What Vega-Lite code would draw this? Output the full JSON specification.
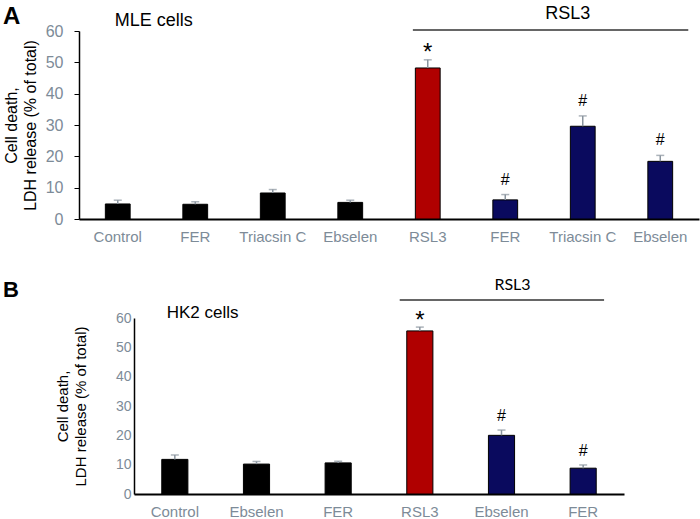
{
  "$schema": "https://vega.github.io/schema/vega-lite/v6.json",
  "padding": {"left": 3, "top": 5, "right": 1, "bottom": 0},
  "spacing": 33,
  "config": {
    "view": {"stroke": null},
    "font": "Liberation Sans",
    "axis": {"grid": false, "domainColor": "#000000", "tickColor": "#000000", "labelColor": "#7d8b98", "labelFont": "Liberation Sans", "titleFont": "Liberation Sans", "titleColor": "#000000", "titleFontWeight": "normal"},
    "axisY": {"tickCount": 7, "labelOverlap": false}
  },
  "datasets": {
    "mle": [
      {"cond": "Control", "grp": "none", "mean": 4.8, "hi": 6.0, "sig": ""},
      {"cond": "FER", "grp": "none", "mean": 4.7, "hi": 5.5, "sig": ""},
      {"cond": "Triacsin C", "grp": "none", "mean": 8.3, "hi": 9.4, "sig": ""},
      {"cond": "Ebselen", "grp": "none", "mean": 5.3, "hi": 6.0, "sig": ""},
      {"cond": "RSL3", "grp": "RSL3", "mean": 48.2, "hi": 50.8, "sig": "*"},
      {"cond": "RSL3+FER", "grp": "RSL3+inhibitor", "mean": 6.1, "hi": 7.8, "sig": "#"},
      {"cond": "RSL3+Triacsin C", "grp": "RSL3+inhibitor", "mean": 29.6, "hi": 32.9, "sig": "#"},
      {"cond": "RSL3+Ebselen", "grp": "RSL3+inhibitor", "mean": 18.4, "hi": 20.3, "sig": "#"}
    ],
    "hk2": [
      {"cond": "Control", "grp": "none", "mean": 11.8, "hi": 13.3, "sig": ""},
      {"cond": "Ebselen", "grp": "none", "mean": 10.2, "hi": 11.1, "sig": ""},
      {"cond": "FER", "grp": "none", "mean": 10.6, "hi": 11.2, "sig": ""},
      {"cond": "RSL3", "grp": "RSL3", "mean": 55.6, "hi": 56.9, "sig": "*"},
      {"cond": "RSL3+Ebselen", "grp": "RSL3+inhibitor", "mean": 20.0, "hi": 21.8, "sig": "#"},
      {"cond": "RSL3+FER", "grp": "RSL3+inhibitor", "mean": 8.8, "hi": 9.9, "sig": "#"}
    ]
  },
  "vconcat": [
    {
      "width": 620,
      "height": 188,
      "title": {"text": "A", "anchor": "start", "frame": "group", "dx": -76, "dy": 24, "fontSize": 24, "fontWeight": "bold", "offset": 0, "font": "Liberation Sans"},
      "data": {"name": "mle"},
      "encoding": {
        "x": {"field": "cond", "type": "nominal", "sort": null,
          "scale": {"paddingInner": 0.68, "paddingOuter": 0.34},
          "axis": {"title": null, "labelAngle": 0, "ticks": false, "domainWidth": 2, "labelFontSize": 15, "labelPadding": 10, "labelOverlap": false, "labelExpr": "replace(datum.label, 'RSL3+', '')"}}
      },
      "layer": [
        {
          "mark": {"type": "bar", "stroke": "#000000", "strokeWidth": 1},
          "encoding": {
            "y": {"field": "mean", "type": "quantitative", "scale": {"domain": [0, 60], "nice": false},
              "axis": {"values": [0, 10, 20, 30, 40, 50, 60], "title": ["Cell death,", "LDH release (% of total)"], "titleFontSize": 16, "titleLineHeight": 19, "titlePadding": 7, "labelFontSize": 16, "labelPadding": 11, "tickSize": 5, "domainWidth": 1.5}},
            "color": {"field": "grp", "type": "nominal", "legend": null,
              "scale": {"domain": ["none", "RSL3", "RSL3+inhibitor"], "range": ["#000000", "#b00000", "#0a0a5e"]}}
          }
        },
        {
          "mark": {"type": "rule", "color": "#8a949e", "strokeWidth": 1.5},
          "encoding": {"y": {"field": "mean", "type": "quantitative"}, "y2": {"field": "hi"}}
        },
        {
          "mark": {"type": "tick", "color": "#8a949e", "thickness": 1.5, "size": 8, "orient": "horizontal"},
          "encoding": {"y": {"field": "hi", "type": "quantitative"}}
        },
        {
          "transform": [{"filter": "datum.sig == '*'"}],
          "mark": {"type": "text", "fontSize": 24, "baseline": "alphabetic", "dy": 0, "color": "#000000"},
          "encoding": {"y": {"field": "hi", "type": "quantitative"}, "text": {"field": "sig"}}
        },
        {
          "transform": [{"filter": "datum.sig == '#'"}],
          "mark": {"type": "text", "fontSize": 16, "baseline": "alphabetic", "dy": -10, "color": "#000000"},
          "encoding": {"y": {"field": "hi", "type": "quantitative"}, "text": {"field": "sig"}}
        },
        {
          "data": {"values": [{"from": "RSL3", "to": "RSL3+Ebselen", "lvl": 60.3}]},
          "mark": {"type": "rule", "color": "#333333", "strokeWidth": 1.5},
          "encoding": {
            "x": {"field": "from", "type": "nominal", "bandPosition": -0.1},
            "x2": {"field": "to", "bandPosition": 1.63},
            "y": {"field": "lvl", "type": "quantitative"}
          }
        },
        {
          "data": {"values": [{"at": "RSL3+Triacsin C", "lvl": 60, "label": "RSL3"}]},
          "mark": {"type": "text", "fontSize": 18, "baseline": "middle", "align": "center", "dy": -17, "color": "#000000"},
          "encoding": {
            "x": {"field": "at", "type": "nominal", "bandPosition": -0.1},
            "y": {"field": "lvl", "type": "quantitative"},
            "text": {"field": "label"}
          }
        },
        {
          "data": {"values": [{"at": "Control", "lvl": 60, "label": "MLE cells"}]},
          "mark": {"type": "text", "fontSize": 18, "baseline": "middle", "align": "left", "dy": -10, "color": "#000000"},
          "encoding": {
            "x": {"field": "at", "type": "nominal", "bandPosition": 0.38},
            "y": {"field": "lvl", "type": "quantitative"},
            "text": {"field": "label"}
          }
        }
      ]
    },
    {
      "width": 545,
      "height": 176,
      "title": {"text": "B", "anchor": "start", "frame": "group", "dx": -76, "dy": 25, "fontSize": 22, "fontWeight": "bold", "offset": 0, "font": "Liberation Sans"},
      "data": {"name": "hk2"},
      "encoding": {
        "x": {"field": "cond", "type": "nominal", "sort": null,
          "scale": {"range": [55, 545], "paddingInner": 0.68, "paddingOuter": 0.34},
          "axis": {"title": null, "labelAngle": 0, "ticks": false, "domainWidth": 2, "labelFontSize": 15, "labelPadding": 10, "labelOverlap": false, "labelExpr": "replace(datum.label, 'RSL3+', '')"}}
      },
      "layer": [
        {
          "mark": {"type": "bar", "stroke": "#000000", "strokeWidth": 1},
          "encoding": {
            "y": {"field": "mean", "type": "quantitative", "scale": {"domain": [0, 60], "nice": false},
              "axis": {"values": [0, 10, 20, 30, 40, 50, 60], "offset": -55, "title": ["Cell death,", "LDH release (% of total)"], "titleFontSize": 15, "titleLineHeight": 18, "titlePadding": 27, "labelFontSize": 14, "labelPadding": 3, "ticks": false, "domainWidth": 1.5}},
            "color": {"field": "grp", "type": "nominal", "legend": null,
              "scale": {"domain": ["none", "RSL3", "RSL3+inhibitor"], "range": ["#000000", "#b00000", "#0a0a5e"]}}
          }
        },
        {
          "mark": {"type": "rule", "color": "#8a949e", "strokeWidth": 1.5},
          "encoding": {"y": {"field": "mean", "type": "quantitative"}, "y2": {"field": "hi"}}
        },
        {
          "mark": {"type": "tick", "color": "#8a949e", "thickness": 1.5, "size": 8, "orient": "horizontal"},
          "encoding": {"y": {"field": "hi", "type": "quantitative"}}
        },
        {
          "transform": [{"filter": "datum.sig == '*'"}],
          "mark": {"type": "text", "fontSize": 24, "baseline": "alphabetic", "dy": 1, "color": "#000000"},
          "encoding": {"y": {"field": "hi", "type": "quantitative"}, "text": {"field": "sig"}}
        },
        {
          "transform": [{"filter": "datum.sig == '#'"}],
          "mark": {"type": "text", "fontSize": 16, "baseline": "alphabetic", "dy": -9, "color": "#000000"},
          "encoding": {"y": {"field": "hi", "type": "quantitative"}, "text": {"field": "sig"}}
        },
        {
          "data": {"values": [{"from": "RSL3", "to": "RSL3+FER", "lvl": 66.1}]},
          "mark": {"type": "rule", "color": "#333333", "strokeWidth": 1.5},
          "encoding": {
            "x": {"field": "from", "type": "nominal", "bandPosition": -0.27},
            "x2": {"field": "to", "bandPosition": 1.3},
            "y": {"field": "lvl", "type": "quantitative"}
          }
        },
        {
          "data": {"values": [{"at": "RSL3+Ebselen", "lvl": 60, "label": "RSL3"}]},
          "mark": {"type": "text", "font": "Lato", "fontSize": 16, "baseline": "middle", "align": "center", "dy": -33, "color": "#000000"},
          "encoding": {
            "x": {"field": "at", "type": "nominal", "bandPosition": 0.92},
            "y": {"field": "lvl", "type": "quantitative"},
            "text": {"field": "label"}
          }
        },
        {
          "data": {"values": [{"at": "Control", "lvl": 60, "label": "HK2 cells"}]},
          "mark": {"type": "text", "fontSize": 17, "baseline": "middle", "align": "left", "dy": -5, "color": "#000000"},
          "encoding": {
            "x": {"field": "at", "type": "nominal", "bandPosition": 0.19},
            "y": {"field": "lvl", "type": "quantitative"},
            "text": {"field": "label"}
          }
        }
      ]
    }
  ]
}
